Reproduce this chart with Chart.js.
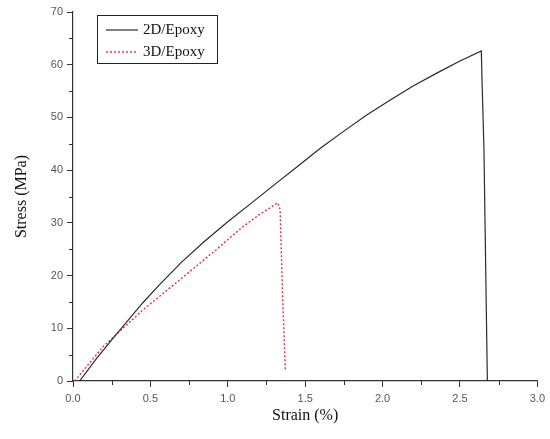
<!DOCTYPE html>
<html>
<head>
<meta charset="utf-8">
<script src="https://cdn.jsdelivr.net/npm/chart.js@4.4.0/dist/chart.umd.min.js"></script>
<style>
  html, body { margin: 0; padding: 0; background: #fff; }
  #wrap { width: 550px; height: 439px; }
</style>
</head>
<body>
<div id="wrap"><canvas id="stress_strain"></canvas></div>
<script>
// values
const strain2D = [0.043, 0.15, 0.25, 0.35, 0.45, 0.55, 0.7, 0.85, 1.0, 1.15, 1.3, 1.45, 1.6, 1.75, 1.9, 2.05, 2.2, 2.35, 2.5, 2.638, 2.643, 2.655, 2.677];
const stress2D = [0, 4.2, 7.8, 11.3, 14.8, 18.0, 22.5, 26.5, 30.2, 33.7, 37.2, 40.7, 44.2, 47.4, 50.5, 53.3, 56.0, 58.4, 60.7, 62.6, 56.5, 44.0, 0];
const strain3D = [0.011, 0.194, 0.452, 0.69, 0.925, 1.086, 1.205, 1.323, 1.338, 1.355, 1.372];
const stress3D = [0, 6.5, 13.5, 19.2, 24.9, 29.0, 31.6, 33.8, 32.5, 15.4, 2.1];
const seriesLabels = ['2D/Epoxy', '3D/Epoxy'];
const xTitle = 'Strain (%)';
const yTitle = 'Stress (MPa)';

const toPoints = (xs, ys) => xs.map((x, i) => ({x: x, y: ys[i]}));

const tickFont = {family: 'Liberation Sans', size: 11};
const serif = {family: 'Liberation Serif', size: 16};

// legend box in the upper left corner of the plot
const boxLegend = {
  id: 'boxLegend',
  afterDraw(chart) {
    const ctx = chart.ctx;
    const x0 = 97, y0 = 15, w = 120, h = 48;
    ctx.save();
    ctx.strokeStyle = '#222';
    ctx.lineWidth = 1;
    ctx.strokeRect(x0 + 0.5, y0 + 0.5, w, h);
    ctx.font = '15px "Liberation Serif"';
    ctx.textBaseline = 'middle';
    ctx.fillStyle = '#111';
    chart.data.datasets.forEach((ds, i) => {
      const y = y0 + 15 + i * 22;
      ctx.beginPath();
      ctx.strokeStyle = ds.borderColor;
      ctx.lineWidth = ds.borderWidth;
      ctx.setLineDash(ds.borderDash || []);
      ctx.moveTo(x0 + 9, y);
      ctx.lineTo(x0 + 41, y);
      ctx.stroke();
      ctx.setLineDash([]);
      ctx.fillText(ds.label, x0 + 46, y);
    });
    ctx.restore();
  }
};

// short minor ticks between the labelled ones
const minorTicks = {
  id: 'minorTicks',
  afterDraw(chart) {
    const ctx = chart.ctx;
    const xs = chart.scales.x, ys = chart.scales.y;
    ctx.save();
    ctx.strokeStyle = '#333';
    ctx.lineWidth = 1;
    ctx.beginPath();
    for (let v = 0.25; v < 3; v += 0.5) {
      const px = Math.round(xs.getPixelForValue(v)) + 0.5;
      ctx.moveTo(px, ys.bottom);
      ctx.lineTo(px, ys.bottom + 4);
    }
    for (let v = 5; v < 70; v += 10) {
      const py = Math.round(ys.getPixelForValue(v)) + 0.5;
      ctx.moveTo(xs.left - 4, py);
      ctx.lineTo(xs.left, py);
    }
    ctx.stroke();
    ctx.restore();
  }
};

const data = {
  datasets: [{
    label: seriesLabels[0],
    data: toPoints(strain2D, stress2D),
    borderColor: '#2a2a2a',
    borderWidth: 1.2,
    pointRadius: 0,
    tension: 0,
    fill: false
  }, {
    label: seriesLabels[1],
    data: toPoints(strain3D, stress3D),
    borderColor: '#e8323a',
    borderWidth: 1.4,
    borderDash: [2, 2],
    pointRadius: 0,
    tension: 0,
    fill: false
  }]
};

const options = {
  responsive: true,
  maintainAspectRatio: false,
  animation: false,
  layout: {padding: {left: 0, right: 12, top: 12, bottom: 0}},
  scales: {
    x: {
      type: 'linear',
      min: 0,
      max: 3,
      afterFit: (scale) => { scale.height = 58; },
      ticks: {stepSize: 0.5, font: tickFont, color: '#555', padding: 5,
        callback: (v) => v.toFixed(1), maxRotation: 0},
      grid: {drawOnChartArea: false, tickLength: 6, color: '#333'},
      border: {display: true, color: '#333', width: 1.2},
      title: {display: true, text: xTitle, font: serif, color: '#111', padding: {top: 4, bottom: 14}}
    },
    y: {
      min: 0,
      max: 70,
      afterFit: (scale) => { scale.width = 73; },
      ticks: {stepSize: 10, font: tickFont, color: '#555', padding: 4},
      grid: {drawOnChartArea: false, tickLength: 6, color: '#333'},
      border: {display: true, color: '#333', width: 1.2},
      title: {display: true, text: yTitle, font: serif, color: '#111', padding: {top: 12, bottom: 8}}
    }
  },
  plugins: {
    legend: {display: false},
    tooltip: {enabled: false}
  }
};

const stress_strain = document.getElementById('stress_strain');
new Chart(stress_strain, {
  type: 'line',
  data: data,
  options: options,
  plugins: [boxLegend, minorTicks]
});
</script>
</body>
</html>
